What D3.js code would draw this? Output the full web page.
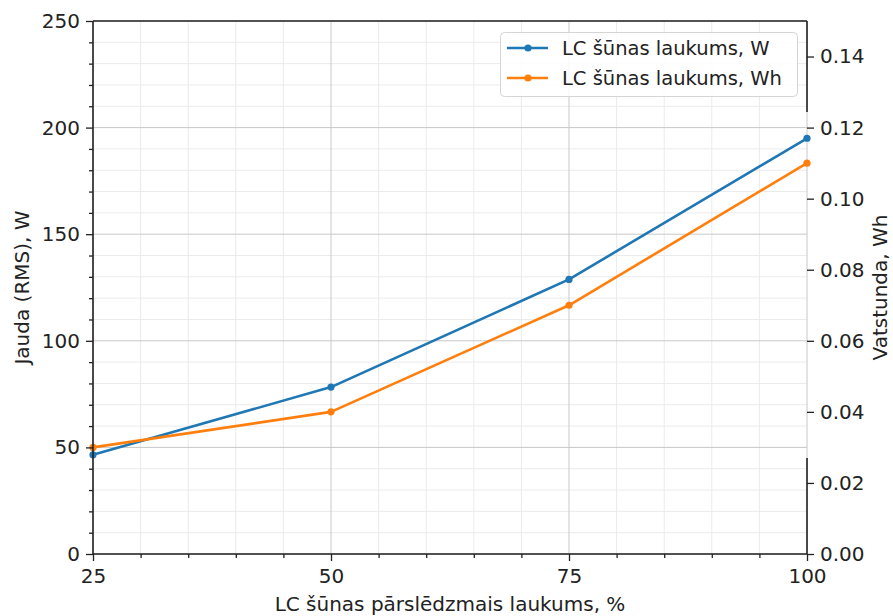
<!DOCTYPE html>
<html>
<head>
<meta charset="utf-8">
<script src="https://cdn.jsdelivr.net/npm/d3@7"></script>
<style>
  html, body { margin: 0; padding: 0; background: #fff; }
  svg { display: block; font-family: "DejaVu Sans", sans-serif; }
</style>
</head>
<body>
<svg id="chart" width="893" height="616"></svg>
<script>
// ---- data ----
const xValues = [25, 50, 75, 100];
const powerW = [46.5, 78.3, 128.8, 195.0];
const energyWh = [0.03, 0.04, 0.07, 0.11];
const xTicks = [25, 50, 75, 100];
const leftTicks = [0, 50, 100, 150, 200, 250];
const rightTicks = [0, 0.02, 0.04, 0.06, 0.08, 0.10, 0.12, 0.14];
const seriesNames = ["LC šūnas laukums, W", "LC šūnas laukums, Wh"];
const xLabel = "LC šūnas pārslēdzmais laukums, %";
const leftLabel = "Jauda (RMS), W";
const rightLabel = "Vatstunda, Wh";

// ---- layout ----
const L = 93, R = 807, T = 21, B = 554;
const blue = "#1f77b4", orange = "#ff7f0e";
const fs = 20;
const fsLeg = 19.5;

const svg = d3.select("#chart");
const x = d3.scaleLinear().domain([25, 100]).range([L, R]);
const yL = d3.scaleLinear().domain([0, 250]).range([B, T]);
const yR = d3.scaleLinear().domain([0, 0.15]).range([B, T]);

// grid
const xMinor = d3.range(25, 100.01, 5);
const yMinor = d3.range(0, 250.01, 10);
const g = svg.append("g");
g.selectAll(".gxm").data(xMinor.filter(v => !xTicks.includes(v))).enter().append("line")
  .attr("x1", d => x(d)).attr("x2", d => x(d)).attr("y1", T).attr("y2", B)
  .attr("stroke", "#ebebeb").attr("stroke-width", 1);
g.selectAll(".gym").data(yMinor.filter(v => v % 50 !== 0)).enter().append("line")
  .attr("x1", L).attr("x2", R).attr("y1", d => yL(d)).attr("y2", d => yL(d))
  .attr("stroke", "#ebebeb").attr("stroke-width", 1);
g.selectAll(".gx").data(xTicks).enter().append("line")
  .attr("x1", d => x(d)).attr("x2", d => x(d)).attr("y1", T).attr("y2", B)
  .attr("stroke", "#c8c8c8").attr("stroke-width", 1);
g.selectAll(".gy").data(leftTicks).enter().append("line")
  .attr("x1", L).attr("x2", R).attr("y1", d => yL(d)).attr("y2", d => yL(d))
  .attr("stroke", "#c8c8c8").attr("stroke-width", 1);

// lines
const lineW = d3.line().x((d, i) => x(xValues[i])).y(d => yL(d));
const lineWh = d3.line().x((d, i) => x(xValues[i])).y(d => yR(d));
svg.append("path").datum(powerW).attr("d", lineW).attr("fill", "none")
  .attr("stroke", blue).attr("stroke-width", 2.6).attr("stroke-linejoin", "round");
svg.selectAll(".pw").data(powerW).enter().append("circle")
  .attr("cx", (d, i) => x(xValues[i])).attr("cy", d => yL(d)).attr("r", 3.6).attr("fill", blue);
svg.append("path").datum(energyWh).attr("d", lineWh).attr("fill", "none")
  .attr("stroke", orange).attr("stroke-width", 2.6).attr("stroke-linejoin", "round");
svg.selectAll(".pe").data(energyWh).enter().append("circle")
  .attr("cx", (d, i) => x(xValues[i])).attr("cy", d => yR(d)).attr("r", 3.6).attr("fill", orange);

// axes
const axB = svg.append("g").attr("transform", `translate(0,${B})`)
  .call(d3.axisBottom(x).tickValues(xTicks).tickSize(7).tickPadding(6).tickFormat(d3.format("d")));
const axBm = svg.append("g").attr("transform", `translate(0,${B})`)
  .call(d3.axisBottom(x).tickValues(xMinor.filter(v => !xTicks.includes(v))).tickSize(4).tickFormat(""));
const axL = svg.append("g").attr("transform", `translate(${L},0)`)
  .call(d3.axisLeft(yL).tickValues(leftTicks).tickSize(7).tickPadding(6));
const axLm = svg.append("g").attr("transform", `translate(${L},0)`)
  .call(d3.axisLeft(yL).tickValues(yMinor.filter(v => v % 50 !== 0)).tickSize(4).tickFormat(""));
const axR = svg.append("g").attr("transform", `translate(${R},0)`)
  .call(d3.axisRight(yR).tickValues(rightTicks).tickSize(7).tickPadding(6).tickFormat(d3.format(".2f")));
[axB, axBm, axL, axLm, axR].forEach(a => {
  a.select(".domain").remove();
  a.selectAll("line").attr("stroke", "#222").attr("stroke-width", 1.3);
  a.selectAll("text").attr("fill", "#222").style("font-size", fs + "px")
   .style("font-family", "'DejaVu Sans', sans-serif");
});
axB.selectAll("text").attr("dy", "0.8em");

// spines
const sp = svg.append("g").attr("stroke", "#222").attr("stroke-width", 1.6).attr("fill", "none");
sp.append("line").attr("x1", L).attr("x2", R).attr("y1", T).attr("y2", T);
sp.append("line").attr("x1", L).attr("x2", R).attr("y1", B).attr("y2", B);
sp.append("line").attr("x1", L).attr("x2", L).attr("y1", T).attr("y2", B);
sp.append("line").attr("x1", R).attr("x2", R).attr("y1", T).attr("y2", 112);
sp.append("line").attr("x1", R).attr("x2", R).attr("y1", 458).attr("y2", B);

// axis labels
svg.append("text").attr("x", (L + R) / 2).attr("y", 611).attr("text-anchor", "middle")
  .style("font-size", fs + "px").attr("fill", "#222").text(xLabel);
svg.append("text").attr("transform", `translate(29,${(T + B) / 2}) rotate(-90)`)
  .attr("text-anchor", "middle").style("font-size", fs + "px").attr("fill", "#222").text(leftLabel);
svg.append("text").attr("transform", `translate(887,${(T + B) / 2}) rotate(-90)`)
  .attr("text-anchor", "middle").style("font-size", fs + "px").attr("fill", "#222").text(rightLabel);

// legend
const lg = svg.append("g");
lg.append("rect").attr("x", 500.5).attr("y", 32.5).attr("width", 297).attr("height", 64)
  .attr("rx", 4).attr("fill", "rgba(255,255,255,0.85)").attr("stroke", "#d5d5d5").attr("stroke-width", 1);
const colors = [blue, orange];
seriesNames.forEach((name, i) => {
  const yy = 48 + i * 30;
  lg.append("line").attr("x1", 507).attr("x2", 548).attr("y1", yy).attr("y2", yy)
    .attr("stroke", colors[i]).attr("stroke-width", 2.6);
  lg.append("circle").attr("cx", 528).attr("cy", yy).attr("r", 3.6).attr("fill", colors[i]);
  lg.append("text").attr("x", 562).attr("y", yy).attr("dy", "0.35em")
    .style("font-size", fsLeg + "px").attr("fill", "#222").text(name);
});
</script>
</body>
</html>
